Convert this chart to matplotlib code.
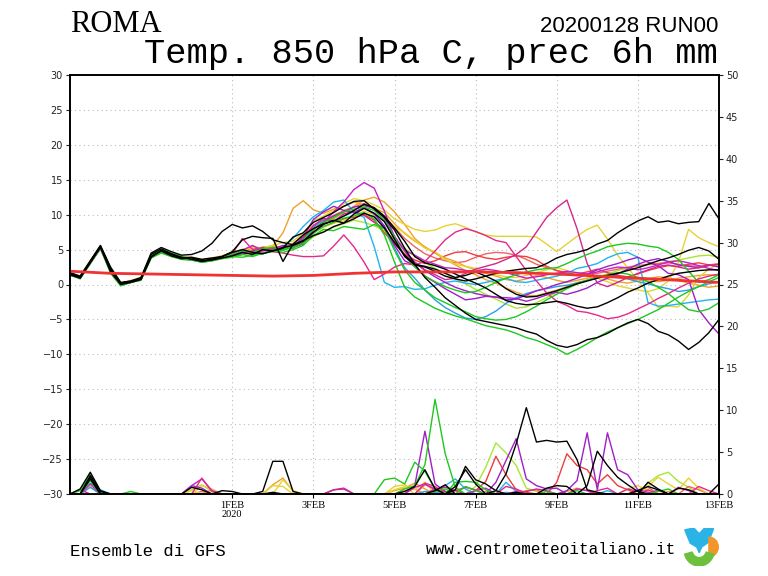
import numpy as np
import matplotlib.pyplot as plt
from matplotlib.patches import Polygon, Wedge

# 6-hourly steps, 28JAN2020 00z -> 13FEB2020 00z (days since start)
steps = np.arange(65) / 4.0

# climatology (thick red), one value per day
clim_days = np.arange(17)
clim_temp = [1.9, 1.6, 1.5, 1.4, 1.3, 1.2, 1.3, 1.6, 1.8, 1.8, 1.8, 1.7, 1.5, 1.2, 0.9, 0.6, 0.3]

# ---- ensemble members: 850 hPa temperature (C) ----
t_black1 = [1.6, 1.1, 3.3, 5.5, 2.3, 0.2, 0.4, 0.9, 4.3, 5.1, 4.4, 3.9, 3.6, 3.3, 3.5, 3.8, 4.1,
            4.6, 4.3, 5.0, 4.8, 5.3, 5.6, 6.2, 7.5,
            8.6, 9.2, 8.8, 10.1, 10.9, 10.2, 9.0,
            6.5, 4.0, 2.8, 2.5, 1.9, 1.2, 0.8, 0.5, 0.8,
            1.2, 1.6, 1.9, 2.1, 2.3, 2.4, 3.0, 3.8,
            4.3, 4.6, 5.0, 5.8, 6.3, 7.4, 8.3, 9.1,
            9.7, 8.9, 9.1, 8.7, 8.9, 9.0, 11.6, 9.4]
t_black2 = [1.4, 0.9, 3.1, 5.4, 1.8, 0.0, 0.3, 0.7, 3.9, 4.9, 4.3, 3.8, 3.9, 3.6, 3.8, 4.0, 4.6,
            5.0, 4.6, 4.4, 4.8, 5.2, 6.8, 7.4, 8.9,
            9.6, 10.3, 11.2, 11.9, 12.0, 10.8, 9.6,
            7.8, 5.2, 2.9, 1.0, -0.4, -1.9, -3.0, -4.1, -5.0,
            -5.3, -5.6, -5.9, -6.2, -6.7, -7.1, -8.0, -8.7,
            -9.0, -8.6, -7.9, -7.6, -7.0, -6.2, -5.5, -5.0,
            -5.6, -6.7, -7.2, -8.1, -9.3, -8.3, -6.9, -5.0]
t_black3 = [1.7, 1.2, 3.4, 5.6, 2.5, 0.3, 0.5, 1.0, 4.5, 5.3, 4.7, 4.2, 4.3, 4.8, 5.9, 7.6, 8.6,
            8.1, 8.4, 7.6, 6.4, 6.0, 5.7, 6.3, 7.0,
            7.5, 8.3, 8.8, 9.4, 10.2, 9.7, 8.1,
            6.0, 4.2, 2.9, 2.6, 2.2, 1.6, 1.0, 1.3, 1.8,
            1.2, 0.5, -0.6, -1.4, -1.8, -1.7, -1.3, -0.9,
            -0.4, 0.1, 0.5, 0.9, 1.3, 1.6, 2.0, 2.4,
            2.9, 3.4, 3.8, 4.3, 4.9, 5.3, 4.8, 3.6]
t_black4 = [1.5, 1.0, 3.2, 5.3, 2.1, 0.1, 0.4, 0.8, 4.0, 4.8, 4.1, 3.7, 3.8, 3.4, 3.6, 4.0, 4.7,
            6.4, 6.9, 6.7, 6.6, 3.3, 5.8, 7.1, 8.0,
            8.7, 9.1, 9.8, 10.6, 11.5, 11.0, 9.8,
            8.1, 6.2, 4.0, 3.1, 2.7, 2.2, 1.5, 0.8, 0.2,
            -0.5, -1.4, -2.3, -2.7, -2.9, -2.8, -2.6, -2.4,
            -2.7, -3.1, -3.4, -3.2, -2.6, -1.9, -1.1, -0.5,
            0.2, 0.7, 1.2, 1.6, 1.8, 2.0, 2.1, 2.1]
t_green1 = [1.4, 0.8, 3.0, 5.2, 1.6, -0.2, 0.3, 0.6, 3.8, 4.5, 4.0, 3.6, 3.5, 3.2, 3.4, 3.7, 3.9,
            4.3, 4.0, 4.5, 4.7, 4.9, 5.3, 5.9, 7.4,
            8.3, 8.9, 9.5, 9.8, 10.3, 9.4, 7.1,
            3.2, -0.4, -1.8, -2.6, -3.4, -4.0, -4.5, -4.9, -5.4,
            -5.9, -6.2, -6.5, -7.0, -7.6, -8.0, -8.6, -9.2,
            -10.0, -9.3, -8.5, -7.6, -6.8, -6.2, -5.6, -5.0,
            -4.3, -3.6, -2.7, -1.8, -1.0, -0.3, 0.4, 1.0]
t_green2 = [1.6, 1.1, 3.3, 5.4, 2.2, 0.1, 0.5, 0.9, 4.2, 5.0, 4.5, 4.0, 3.7, 3.4, 3.6, 3.9, 4.4,
            4.8, 4.6, 5.1, 5.3, 5.0, 5.5, 6.4, 7.9,
            8.9, 9.6, 10.4, 10.8, 11.1, 10.6, 9.2,
            6.8, 4.1, 2.5, 1.2, 0.4, -0.3, -0.8, -1.2, -1.0,
            -0.4, 0.3, 0.9, 1.4, 1.8, 2.1, 2.3, 2.4,
            3.0, 3.7, 4.3, 4.8, 5.4, 5.7, 5.9, 5.8,
            5.5, 5.3, 4.6, 3.6, 1.9, 0.3, 0.7, 1.4]
t_green3 = [1.5, 1.0, 3.1, 5.2, 1.9, -0.1, 0.3, 0.7, 3.9, 4.7, 4.1, 3.7, 3.6, 3.2, 3.5, 3.8, 4.0,
            3.9, 4.2, 4.4, 4.9, 4.6, 5.0, 5.6, 7.0,
            7.9, 7.7, 8.3, 8.1, 7.9, 8.6, 8.0,
            4.9, 2.1, 0.3, -0.8, -1.9, -2.6, -3.3, -3.9, -4.6,
            -4.9, -5.1, -5.0, -4.6, -3.9, -3.1, -2.2, -1.4,
            -0.6, 0.1, 0.6, 1.0, 1.4, 1.7, 1.5, 1.0,
            0.4, -0.4, -1.3, -2.5, -3.6, -3.9, -3.5, -2.6]
t_magenta1 = [1.3, 0.9, 3.0, 5.1, 1.9, 0.0, 0.4, 0.8, 4.0, 4.6, 4.2, 3.8, 3.7, 3.3, 3.6, 3.9, 4.3,
              4.9, 5.6, 4.8, 5.2, 5.0, 5.4, 6.0, 7.3,
              8.9, 10.4, 11.8, 13.6, 14.6, 13.8, 10.5,
              6.8, 4.9, 4.2, 3.4, 2.9, 2.4, 2.3, 2.0, 1.9,
              2.2, 2.0, 1.7, 1.3, 0.9, 1.1, 1.4, 1.6,
              1.9, 1.7, 1.5, 1.8, 2.2, 2.5, 2.4, 2.1,
              2.4, 2.8, 3.2, 3.4, 3.1, 2.7, 2.3, 2.0]
t_pink = [1.5, 1.0, 3.2, 5.3, 2.0, 0.1, 0.4, 0.8, 4.1, 4.8, 4.2, 3.8, 3.7, 3.4, 3.6, 4.0, 4.4,
          6.6, 5.0, 5.3, 4.7, 4.5, 4.2, 4.0, 4.0,
          4.1, 5.5, 7.1, 5.4, 3.2, 0.7, 1.5,
          2.5, 3.0, 2.8, 3.3, 4.8, 6.4, 7.5, 8.0, 7.6,
          7.0, 6.3, 6.0, 4.0, 2.0, 0.5, -1.2, -2.4,
          -3.0, -3.8, -4.0, -4.4, -4.9, -4.7, -4.2, -3.5,
          -2.8, -2.0, -1.3, -0.5, 0.2, 0.8, 1.2, 1.5]
t_magenta2 = [1.5, 1.0, 3.2, 5.3, 2.0, 0.1, 0.4, 0.8, 4.1, 4.9, 4.3, 3.9, 3.8, 3.5, 3.7, 3.9, 4.3,
              4.6, 4.4, 4.9, 5.1, 5.4, 5.2, 6.6, 8.4,
              9.5, 9.0, 10.1, 10.5, 9.9, 8.9, 8.0,
              6.1, 4.2, 3.2, 2.1, 1.4, 0.7, 0.9, 1.6, 2.2,
              2.6, 3.0, 3.6, 4.3, 5.4, 7.5, 9.6, 11.0,
              12.1, 8.0, 3.0, 0.2, -0.3, 0.3, 1.0, 1.6,
              2.1, 2.6, 2.8, 2.5, 2.2, 2.4, 2.7, 2.9]
t_purple1 = [1.6, 1.1, 3.2, 5.4, 2.1, 0.2, 0.5, 0.9, 4.2, 4.8, 4.2, 3.8, 3.6, 3.4, 3.6, 4.0, 4.5,
             4.5, 4.8, 5.2, 5.1, 5.6, 5.4, 6.8, 9.3,
             10.4, 11.2, 10.6, 10.3, 11.0, 10.1, 8.4,
             5.6, 3.4, 2.7, 1.2, 0.3, -0.6, -1.4, -2.2, -2.0,
             -1.7, -1.8, -2.2, -2.1, -1.5, -0.9, -0.5, 0.0,
             0.4, 0.9, 1.5, 2.1, 2.6, 3.0, 3.5, 3.9,
             3.2, 2.7, 1.6, 1.4, 0.7, -3.6, -5.5, -7.1]
t_purple2 = [1.4, 0.9, 3.1, 5.3, 1.8, 0.0, 0.3, 0.8, 3.9, 4.7, 4.1, 3.8, 3.7, 3.3, 3.5, 3.8, 4.1,
             4.3, 4.7, 4.5, 4.9, 5.1, 5.3, 5.8, 7.9,
             9.0, 9.8, 10.4, 11.1, 11.3, 10.9, 9.5,
             6.9, 4.8, 3.2, 2.0, 1.1, 0.3, -0.4, -0.9, -1.3,
             -1.6, -1.8, -1.9, -2.0, -2.4, -2.0, -1.5, -1.1,
             -1.4, -1.0, -0.5, 0.3, 0.9, 1.5, 2.2, 2.9,
             3.4, 3.7, 3.3, 2.8, 2.6, 2.4, 2.8, 2.5]
t_yellow1 = [1.7, 1.2, 3.4, 5.4, 2.3, 0.2, 0.6, 1.0, 4.3, 5.0, 4.4, 4.0, 3.9, 3.6, 3.8, 4.1, 4.6,
             5.0, 5.3, 5.1, 5.6, 6.0, 6.2, 7.4, 9.1,
             9.8, 10.6, 11.6, 12.3, 12.0, 11.4, 10.7,
             9.4, 8.6, 7.9, 7.6, 7.8, 8.4, 8.7, 8.2, 7.5,
             7.1, 6.9, 6.9, 6.9, 6.9, 6.8, 5.8, 4.7,
             5.8, 6.9, 7.9, 8.5, 6.5, 4.2, 2.4, 0.6,
             -1.2, -3.3, -3.1, -3.2, -1.5, 1.0, 2.2, 3.0]
t_yellow2 = [1.5, 1.0, 3.2, 5.3, 2.0, 0.0, 0.4, 0.8, 4.0, 4.8, 4.3, 3.9, 3.7, 3.4, 3.6, 3.9, 4.2,
             4.5, 4.9, 5.3, 5.6, 5.2, 5.9, 6.1, 7.6,
             8.2, 8.8, 9.1, 9.9, 10.5, 10.0, 9.3,
             8.3, 7.4, 6.3, 5.2, 4.7, 3.6, 2.9, 2.6, 2.3,
             1.9, 1.4, 1.1, 1.0, 1.3, 1.7, 2.1, 2.4,
             2.0, 1.5, 1.3, 0.9, 0.4, -0.2, -0.5, -0.8,
             -1.0, -0.6, 0.5, 3.2, 7.9, 6.7, 6.0, 5.4]
t_orange1 = [1.6, 1.1, 3.3, 5.5, 2.2, 0.1, 0.5, 0.9, 4.2, 5.0, 4.4, 3.9, 3.8, 3.5, 3.7, 4.0, 4.4,
             4.7, 5.2, 5.0, 5.5, 7.4, 10.9, 12.0, 10.7,
             10.2, 10.8, 11.2, 11.8, 11.4, 10.9, 10.3,
             8.7, 7.3, 6.2, 5.4, 4.5, 3.8, 3.3, 2.6, 2.1,
             1.6, 1.2, 0.7, 0.5, 0.8, 1.3, 1.0, 0.6,
             0.3, 0.6, 0.9, 1.2, 0.8, 0.4, 0.2, 0.5,
             0.8, 1.1, 1.0, 0.6, 0.2, -0.1, -0.4, -0.2]
t_orange2 = [1.4, 1.0, 3.1, 5.2, 1.9, 0.0, 0.3, 0.7, 3.9, 4.6, 4.0, 3.6, 3.5, 3.2, 3.4, 3.7, 4.0,
             4.3, 4.5, 4.8, 5.0, 5.3, 5.6, 6.3, 7.8,
             8.9, 9.4, 10.3, 11.2, 12.1, 12.5, 11.8,
             10.4, 8.6, 6.6, 5.3, 4.5, 3.6, 2.8, 2.0, 1.4,
             0.7, 0.2, -0.5, -1.1, -1.6, -1.6, -1.2, -0.8,
             -0.3, 0.3, 0.6, 0.9, 1.2, 1.0, 0.8, 0.6,
             0.5, 0.4, 0.6, 0.9, 1.1, 1.3, 1.4, 1.3]
t_red = [1.5, 1.0, 3.2, 5.3, 2.0, 0.1, 0.4, 0.8, 4.1, 4.8, 4.3, 3.9, 3.8, 3.5, 3.7, 3.9, 4.3,
         4.6, 4.9, 5.3, 5.4, 5.1, 5.5, 6.2, 7.4,
         8.3, 8.8, 9.4, 9.6, 10.0, 9.2, 7.4,
         5.8, 4.4, 3.5, 3.0, 3.4, 4.1, 4.6, 4.7, 4.2,
         3.8, 3.6, 3.9, 4.1, 4.0, 3.5, 2.6, 2.0,
         1.6, 1.5, 1.8, 2.2, 1.7, 1.3, 1.1, 1.5,
         2.0, 2.4, 2.7, 2.6, 2.9, 3.1, 2.8, 2.6]
t_cyan = [1.6, 1.1, 3.3, 5.4, 2.1, 0.1, 0.4, 0.8, 4.1, 4.9, 4.3, 3.9, 3.6, 3.3, 3.5, 3.9, 4.3,
          4.8, 4.5, 5.0, 4.8, 5.4, 6.6, 8.3, 9.7,
          10.6, 11.8, 12.1, 10.4, 9.6, 5.4, 0.3,
          -0.4, -0.3, -0.7, -0.6, -0.1, 0.3, 0.5, 0.2, 0.0,
          0.3, 0.6, 0.9, 0.4, 0.3, 0.6, 0.9, 1.2,
          1.6, 2.3, 2.6, 3.0, 3.8, 4.4, 4.6, 3.9,
          -2.6, -3.1, -3.0, -2.8, -2.6, -2.4, -2.2, -2.1]
t_blue = [1.5, 1.0, 3.1, 5.3, 1.9, -0.1, 0.3, 0.7, 3.8, 4.7, 4.1, 3.7, 3.5, 3.2, 3.4, 3.8, 4.2,
          4.4, 4.6, 4.4, 4.9, 5.2, 5.5, 6.4, 8.2,
          9.3, 9.0, 9.8, 10.4, 11.0, 10.2, 8.3,
          5.2, 2.4, 0.9, -0.8, -2.2, -3.3, -4.1, -4.8, -5.0,
          -4.6, -3.8, -2.7, -1.9, -1.3, -0.9, -0.6, -0.3,
          -0.1, 0.2, 0.6, 1.0, 1.3, 1.1, 0.8, 0.4,
          0.1, -0.3, -0.6, -1.0, -0.8, -0.3, 0.1, 0.4]
t_lime = [1.5, 1.0, 3.2, 5.3, 2.0, 0.1, 0.4, 0.8, 4.0, 4.8, 4.2, 3.8, 3.7, 3.4, 3.6, 4.0, 4.3,
          4.6, 4.8, 5.4, 5.0, 5.3, 5.7, 6.0, 6.8,
          7.6, 8.2, 8.7, 9.2, 8.9, 8.4, 7.7,
          6.5, 5.2, 4.0, 3.1, 2.3, 1.6, 0.8, 0.1, -0.7,
          -1.4, -2.1, -2.8, -3.4, -3.2, -2.6, -1.9, -1.1,
          -0.5, 0.0, 0.6, 1.1, 1.5, 2.0, 2.3, 2.6,
          2.8, 3.0, 3.3, 3.5, 3.8, 4.1, 4.2, 3.9]
t_salmon = [1.6, 1.1, 3.3, 5.4, 2.2, 0.2, 0.5, 0.9, 4.2, 4.9, 4.3, 3.9, 3.8, 3.5, 3.7, 4.1, 4.6,
            5.0, 5.4, 5.2, 5.5, 5.3, 5.8, 6.9, 8.5,
            9.2, 9.9, 10.6, 11.1, 11.6, 11.0, 9.7,
            8.2, 6.6, 5.4, 4.4, 3.8, 3.4, 3.1, 3.3, 3.9,
            4.4, 4.6, 4.5, 4.2, 3.6, 2.9, 2.4, 2.0,
            1.7, 1.5, 1.4, 1.6, 1.9, 2.2, 2.5, 2.7,
            2.9, 3.0, 3.1, 2.9, 2.7, 2.6, 2.8, 3.0]

# ---- 6h precipitation (mm), step index -> value, zero elsewhere ----
p_black1 = {1: 0.6, 2: 2.6, 3: 0.4, 12: 0.8, 13: 0.5, 20: 0.2, 38: 0.5, 39: 3.3, 40: 1.7, 41: 1.2,
            42: 0.4, 47: 0.7, 48: 1.0, 49: 0.9, 57: 1.4, 58: 0.6, 64: 1.2}
p_black2 = {2: 2.2, 3: 0.3, 33: 0.3, 34: 0.9, 35: 2.9, 36: 0.6, 42: 0.4, 43: 2.4, 44: 6.0, 45: 10.3,
            46: 6.2, 47: 6.4, 48: 6.2, 49: 6.3, 50: 4.1, 51: 0.5, 52: 0.2}
p_black3 = {2: 2.0, 38: 0.9, 39: 2.9, 40: 1.2, 51: 1.0, 52: 5.1, 53: 3.4, 54: 2.0, 55: 1.1, 56: 0.3,
            60: 0.7, 61: 0.5}
p_black4 = {2: 1.8, 15: 0.4, 16: 0.3, 19: 0.3, 20: 3.9, 21: 3.9, 22: 0.3, 36: 0.4, 37: 1.1, 44: 0.2,
            56: 0.4, 57: 0.9, 58: 0.5}
p_green1 = {1: 0.4, 2: 2.4, 3: 0.2, 6: 0.3, 33: 0.6, 34: 1.0, 35: 3.5, 36: 11.3, 37: 4.8, 38: 0.8}
p_green2 = {31: 1.7, 32: 1.9, 33: 1.2, 34: 3.8, 35: 2.7, 36: 0.6, 38: 1.4, 39: 1.5, 40: 1.4, 41: 0.5}
p_green3 = {2: 1.6, 36: 0.3, 37: 0.6, 39: 0.9, 40: 0.4, 47: 0.3, 50: 0.4, 58: 0.3, 59: 0.6}
p_magenta1 = {2: 1.2, 12: 1.0, 13: 1.8, 14: 0.4, 34: 0.8, 35: 1.2, 36: 0.5, 40: 0.4, 41: 0.7, 44: 0.3,
              50: 0.6, 51: 0.4, 60: 0.8, 61: 0.4}
p_pink = {13: 1.9, 14: 0.3, 35: 1.3, 36: 0.9, 38: 0.4, 39: 0.8, 40: 0.5, 43: 0.9, 44: 0.6, 52: 0.4,
          53: 0.7, 57: 0.5, 62: 0.9, 63: 0.4}
p_magenta2 = {1: 0.5, 26: 0.5, 27: 0.7, 36: 0.6, 37: 0.8, 38: 0.4, 45: 0.3, 46: 0.6, 47: 0.4, 55: 0.6,
              56: 0.3, 58: 0.5}
p_purple1 = {12: 1.0, 13: 0.7, 26: 0.5, 27: 0.6, 34: 1.0, 35: 7.5, 36: 1.2, 37: 0.3, 42: 1.4, 43: 4.0,
             44: 6.6, 45: 1.8, 46: 1.0, 47: 0.6, 48: 0.7}
p_purple2 = {49: 0.4, 50: 1.6, 51: 7.3, 52: 0.5, 53: 7.3, 54: 2.9, 55: 2.3, 56: 0.5, 57: 0.2}
p_yellow1 = {2: 1.0, 13: 1.0, 14: 0.6, 21: 1.7, 22: 0.4, 32: 0.5, 33: 0.9, 57: 0.9, 58: 2.0, 59: 1.2,
             60: 0.5, 61: 1.9, 62: 0.7}
p_yellow2 = {12: 0.4, 20: 1.0, 21: 0.9, 32: 0.9, 33: 1.1, 34: 0.5, 35: 1.4, 55: 0.6, 56: 1.0, 57: 0.4}
p_orange1 = {20: 1.1, 21: 1.9, 22: 0.3, 32: 0.4, 33: 0.7, 34: 1.3, 35: 0.6, 41: 0.3}
p_orange2 = {2: 0.9, 14: 0.5, 33: 0.4, 34: 0.6, 49: 0.3, 50: 0.7, 51: 0.4, 59: 0.3}
p_red = {36: 0.6, 37: 0.3, 40: 0.4, 41: 1.5, 42: 4.5, 43: 2.3, 44: 0.5, 45: 0.2, 48: 1.4, 49: 4.8,
         50: 3.4, 51: 2.9, 52: 1.2, 53: 2.3, 54: 1.0, 55: 0.5}
p_cyan = {2: 1.3, 3: 0.5, 36: 0.4, 37: 1.0, 38: 1.8, 39: 0.6, 43: 1.4, 44: 0.3, 53: 0.4}
p_blue = {2: 0.8, 35: 0.3, 36: 0.2, 43: 0.2}
p_lime = {12: 0.5, 13: 1.1, 14: 0.3, 36: 0.5, 37: 0.8, 38: 0.5, 40: 0.9, 41: 3.2, 42: 6.1, 43: 4.9,
          44: 3.4, 45: 0.7, 46: 0.3, 57: 1.3, 58: 2.2, 59: 2.6, 60: 1.5, 61: 0.8}
p_salmon = {2: 0.9, 13: 0.3, 35: 1.1, 36: 0.7, 45: 0.4, 46: 0.5, 56: 0.5, 57: 0.8, 61: 0.9, 62: 0.5}

members = [
    ('#a8e632', t_lime, p_lime),
    ('#f06464', t_salmon, p_salmon),
    ('#f03c3c', t_red, p_red),
    ('#f0a028', t_orange1, p_orange1),
    ('#f0a028', t_orange2, p_orange2),
    ('#e6d232', t_yellow1, p_yellow1),
    ('#e6d232', t_yellow2, p_yellow2),
    ('#1eb4f0', t_cyan, p_cyan),
    ('#28a0e6', t_blue, p_blue),
    ('#a01ec8', t_purple1, p_purple1),
    ('#a01ec8', t_purple2, p_purple2),
    ('#c81ec8', t_magenta1, p_magenta1),
    ('#e6288c', t_pink, p_pink),
    ('#d2288c', t_magenta2, p_magenta2),
    ('#1ec81e', t_green1, p_green1),
    ('#1ec81e', t_green2, p_green2),
    ('#1ec81e', t_green3, p_green3),
    ('#000000', t_black1, p_black1),
    ('#000000', t_black2, p_black2),
    ('#000000', t_black3, p_black3),
    ('#000000', t_black4, p_black4),
]

date_ticks = [4, 6, 8, 10, 12, 14, 16]
date_labels = ['1FEB\n2020', '3FEB', '5FEB', '7FEB', '9FEB', '11FEB', '13FEB']

fig = plt.figure(figsize=(7.68, 5.76), dpi=100)
ax = fig.add_axes([70/768, 82/576, 649/768, 419/576])
ax2 = ax.twinx()

for col, t, p in members:
    ax.plot(steps, t, color=col, lw=1.0)
    prec = np.zeros(len(steps))
    for k, v in p.items():
        prec[k] = v
    ax2.plot(steps, prec, color=col, lw=1.0)

ax.plot(clim_days, clim_temp, color='#f03232', lw=2.0, zorder=5)

ax.set_xlim(0, 16)
ax.set_ylim(-30, 30)
ax2.set_ylim(0, 50)
ax.set_yticks(np.arange(-30, 31, 5))
ax2.set_yticks(np.arange(0, 51, 5))
ax.set_xticks(date_ticks)
ax.set_xticklabels(date_labels, family='Liberation Serif', fontsize=7.5, linespacing=1.0)

ax.tick_params(axis='y', labelsize=7, length=3, width=0.8, colors='#222222', pad=2)
ax2.tick_params(axis='y', labelsize=7, length=3, width=0.8, colors='#222222', pad=2)
ax.tick_params(axis='x', length=3, width=0.8, pad=2)

ax.grid(True, color='#bbbbbb', linestyle=(0, (1, 3)), lw=0.8)
for a in (ax, ax2):
    for s in a.spines.values():
        s.set_linewidth(1.2)

fig.text(70/768, 1 - 24/576, 'ROMA', family='Liberation Serif', fontsize=22, va='center', ha='left')
fig.text(718/768, 1 - 26/576, '20200128 RUN00', family='Liberation Sans', fontsize=16,
         va='center', ha='right')
fig.text(718/768, 1 - 53/576, 'Temp. 850 hPa C, prec 6h mm', family='Liberation Mono', fontsize=25.5,
         va='center', ha='right')
fig.text(70/768, 1 - 551/576, 'Ensemble di GFS', family='Liberation Mono', fontsize=12.5,
         va='center', ha='left')
fig.text(676/768, 1 - 550/576, 'www.centrometeoitaliano.it', family='Liberation Mono', fontsize=11.5,
         va='center', ha='right')

# small logo
lg = fig.add_axes([683/768, 10/576, 36/768, 38/576])
lg.set_xlim(0, 1)
lg.set_ylim(0, 1)
lg.axis('off')
lg.add_patch(Polygon([(0.05, 0.95), (0.3, 1.0), (0.45, 0.85), (0.6, 1.0), (0.85, 0.98),
                      (0.7, 0.62), (0.52, 0.5), (0.45, 0.35), (0.38, 0.5), (0.2, 0.6)],
                     closed=True, color='#2ab4e6'))
lg.add_patch(Wedge((0.72, 0.5), 0.26, -90, 90, color='#f0962a'))
lg.add_patch(Wedge((0.45, 0.42), 0.42, 195, 345, width=0.22, color='#6cc03c'))

fig.savefig('out.png', dpi=100)
